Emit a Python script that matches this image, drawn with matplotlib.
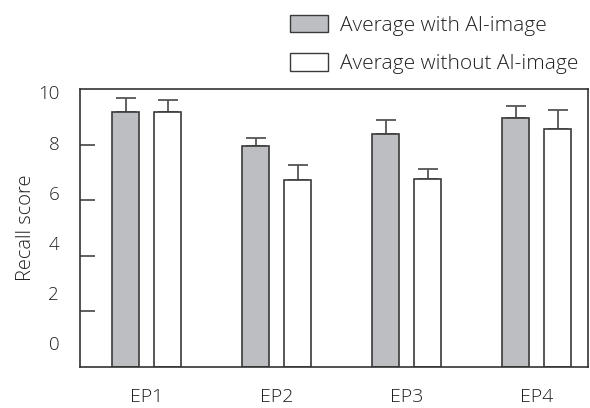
import numpy as np
import matplotlib.pyplot as plt
from matplotlib.patches import Patch

plt.rcParams['font.family'] = ['Open Sans', 'DejaVu Sans']
plt.rcParams['font.weight'] = 'light'

# data
episodes = ['EP1', 'EP2', 'EP3', 'EP4']
with_ai = [9.16, 7.96, 8.38, 8.97]
with_ai_err = [0.53, 0.29, 0.52, 0.41]
without_ai = [9.16, 6.74, 6.75, 8.57]
without_ai_err = [0.44, 0.54, 0.37, 0.67]
ytick_labels = ['0', '2', '4', '6', '8', '10']

txt = '#231f20'

fig = plt.figure(figsize=(5.9, 4.08), dpi=100)
ax = fig.add_axes([80/590, 1 - 367/408, 508/590, 278/408])

x = np.arange(len(episodes))
w = 0.208
off = 0.162
edge = '#3a3a3a'
ax.bar(x - off, with_ai, w, color='#bdbec2', edgecolor=edge, linewidth=1.2, zorder=2)
ax.bar(x + off, without_ai, w, color='white', edgecolor=edge, linewidth=1.2, zorder=2)
ax.errorbar(x - off, with_ai, yerr=[np.zeros(4), with_ai_err], fmt='none',
            ecolor='#555555', elinewidth=1.3, capsize=7.5, capthick=1.3, zorder=1)
ax.errorbar(x + off, without_ai, yerr=[np.zeros(4), without_ai_err], fmt='none',
            ecolor='#555555', elinewidth=1.3, capsize=7.5, capthick=1.3, zorder=1)

ax.set_xlim(-0.515, 3.396)
ax.set_ylim(0, 10)
ax.set_xticks(x)
ax.set_xticklabels(episodes, fontsize=14, color=txt)
ax.tick_params(axis='x', length=0, pad=15)

# labels are spaced a bit tighter than the tick marks, as in the original
ax.set_yticks([0.86, 2.66, 4.46, 6.26, 8.06, 9.89])
ax.set_yticklabels(ytick_labels, fontsize=13.5, color=txt)
ax.tick_params(axis='y', length=0, pad=15)
ax.set_yticks([2, 4, 6, 8], minor=True)
ax.tick_params(axis='y', which='minor', direction='in', length=11, width=1.2, color='#444444')
ax.set_ylabel('Recall score', fontsize=14.5, fontweight='light', color=txt, labelpad=1.5)

for s in ax.spines.values():
    s.set_color('#333333')
    s.set_linewidth(1.2)

handles = [Patch(facecolor='#bdbec2', edgecolor=edge, label='Average with AI-image'),
           Patch(facecolor='white', edgecolor=edge, label='Average without AI-image')]
fig.legend(handles=handles, loc='upper left', bbox_to_anchor=(271/590, 1 + 4/408),
           frameon=False, fontsize=15, handlelength=1.85, handleheight=0.92,
           handletextpad=0.55, labelspacing=0.85, labelcolor=txt)

fig.savefig('out.png', dpi=100)
